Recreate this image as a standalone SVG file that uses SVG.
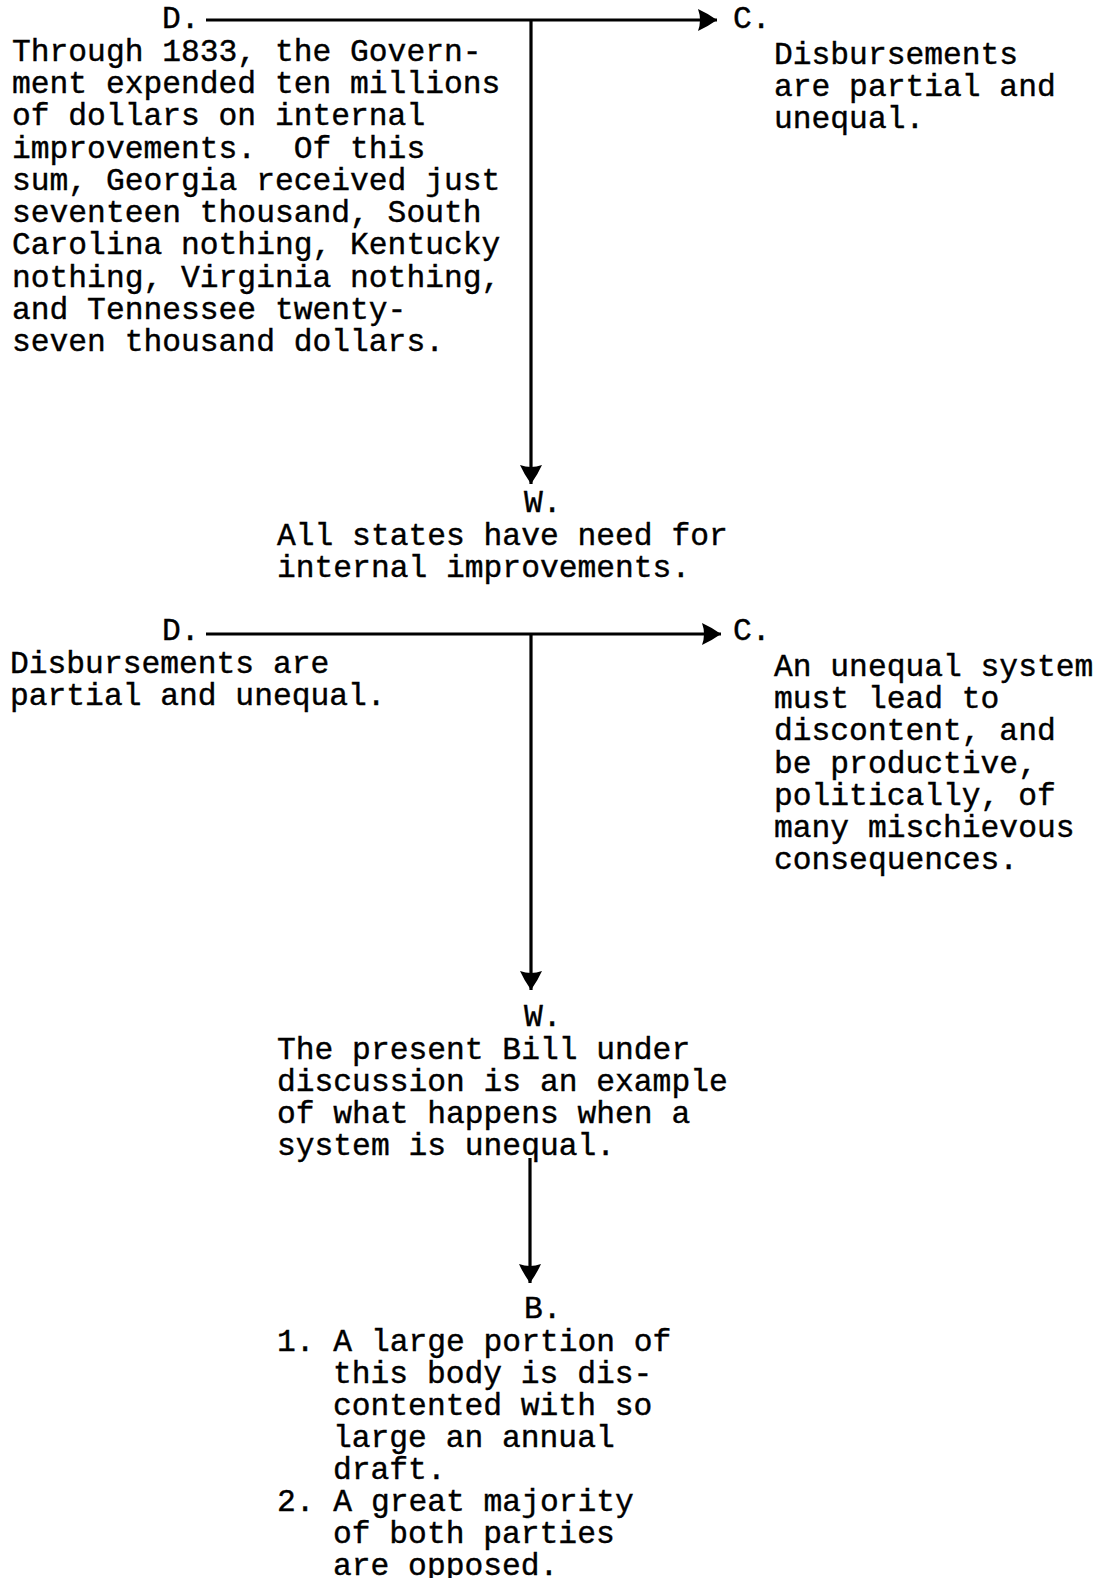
<svg xmlns="http://www.w3.org/2000/svg" width="1108" height="1578" viewBox="0 0 1108 1578">
  <defs>
    <style>
      text { font-family: "Liberation Mono", "DejaVu Sans Mono", monospace; font-size: 31.3px; fill: #000; stroke: #000; stroke-width: 0.4px; }
      .wire { stroke: #000; stroke-width: 3.2; fill: none; }
    </style>
    <!-- solid typewriter-style arrowhead, tip at the line end -->
    <marker id="head" markerUnits="userSpaceOnUse" markerWidth="22" markerHeight="24" refX="19" refY="11" orient="auto" overflow="visible">
      <path d="M0,0 Q9,4 19,11 Q9,18 0,22 Q4,11 0,0 Z" fill="#000"/>
    </marker>
  </defs>

  <rect width="1108" height="1578" fill="#fff"/>

  <g id="connectors">
    <path class="wire" d="M206,20 H717" marker-end="url(#head)"/>
    <path class="wire" d="M531,20 V484" marker-end="url(#head)"/>
    <path class="wire" d="M206,634 H721" marker-end="url(#head)"/>
    <path class="wire" d="M531,634 V990" marker-end="url(#head)"/>
    <path class="wire" d="M530,1158 V1283" marker-end="url(#head)"/>
  </g>

  <g id="d1">
    <text x="162" y="28">D.</text>
    <text x="12" y="61">Through 1833, the Govern-</text>
    <text x="12" y="93">ment expended ten millions</text>
    <text x="12" y="125">of dollars on internal</text>
    <text x="12" y="158" xml:space="preserve">improvements.  Of this</text>
    <text x="12" y="190">sum, Georgia received just</text>
    <text x="12" y="222">seventeen thousand, South</text>
    <text x="12" y="254">Carolina nothing, Kentucky</text>
    <text x="12" y="287">nothing, Virginia nothing,</text>
    <text x="12" y="319">and Tennessee twenty-</text>
    <text x="12" y="351">seven thousand dollars.</text>
  </g>

  <g id="c1">
    <text x="733" y="28">C.</text>
    <text x="774" y="64">Disbursements</text>
    <text x="774" y="96">are partial and</text>
    <text x="774" y="128">unequal.</text>
  </g>

  <g id="w1">
    <text x="524" y="512">W.</text>
    <text x="277" y="545">All states have need for</text>
    <text x="277" y="577">internal improvements.</text>
  </g>

  <g id="d2">
    <text x="162" y="640">D.</text>
    <text x="10" y="673">Disbursements are</text>
    <text x="10" y="705">partial and unequal.</text>
  </g>

  <g id="c2">
    <text x="733" y="640">C.</text>
    <text x="774" y="676">An unequal system</text>
    <text x="774" y="708">must lead to</text>
    <text x="774" y="740">discontent, and</text>
    <text x="774" y="773">be productive,</text>
    <text x="774" y="805">politically, of</text>
    <text x="774" y="837">many mischievous</text>
    <text x="774" y="869">consequences.</text>
  </g>

  <g id="w2">
    <text x="524" y="1026">W.</text>
    <text x="277" y="1059">The present Bill under</text>
    <text x="277" y="1091">discussion is an example</text>
    <text x="277" y="1123">of what happens when a</text>
    <text x="277" y="1155">system is unequal.</text>
  </g>

  <g id="b">
    <text x="524" y="1318">B.</text>
    <text x="277" y="1351">1. A large portion of</text>
    <text x="333" y="1383">this body is dis-</text>
    <text x="333" y="1415">contented with so</text>
    <text x="333" y="1447">large an annual</text>
    <text x="333" y="1479">draft.</text>
    <text x="277" y="1511">2. A great majority</text>
    <text x="333" y="1543">of both parties</text>
    <text x="333" y="1575">are opposed.</text>
  </g>
</svg>
